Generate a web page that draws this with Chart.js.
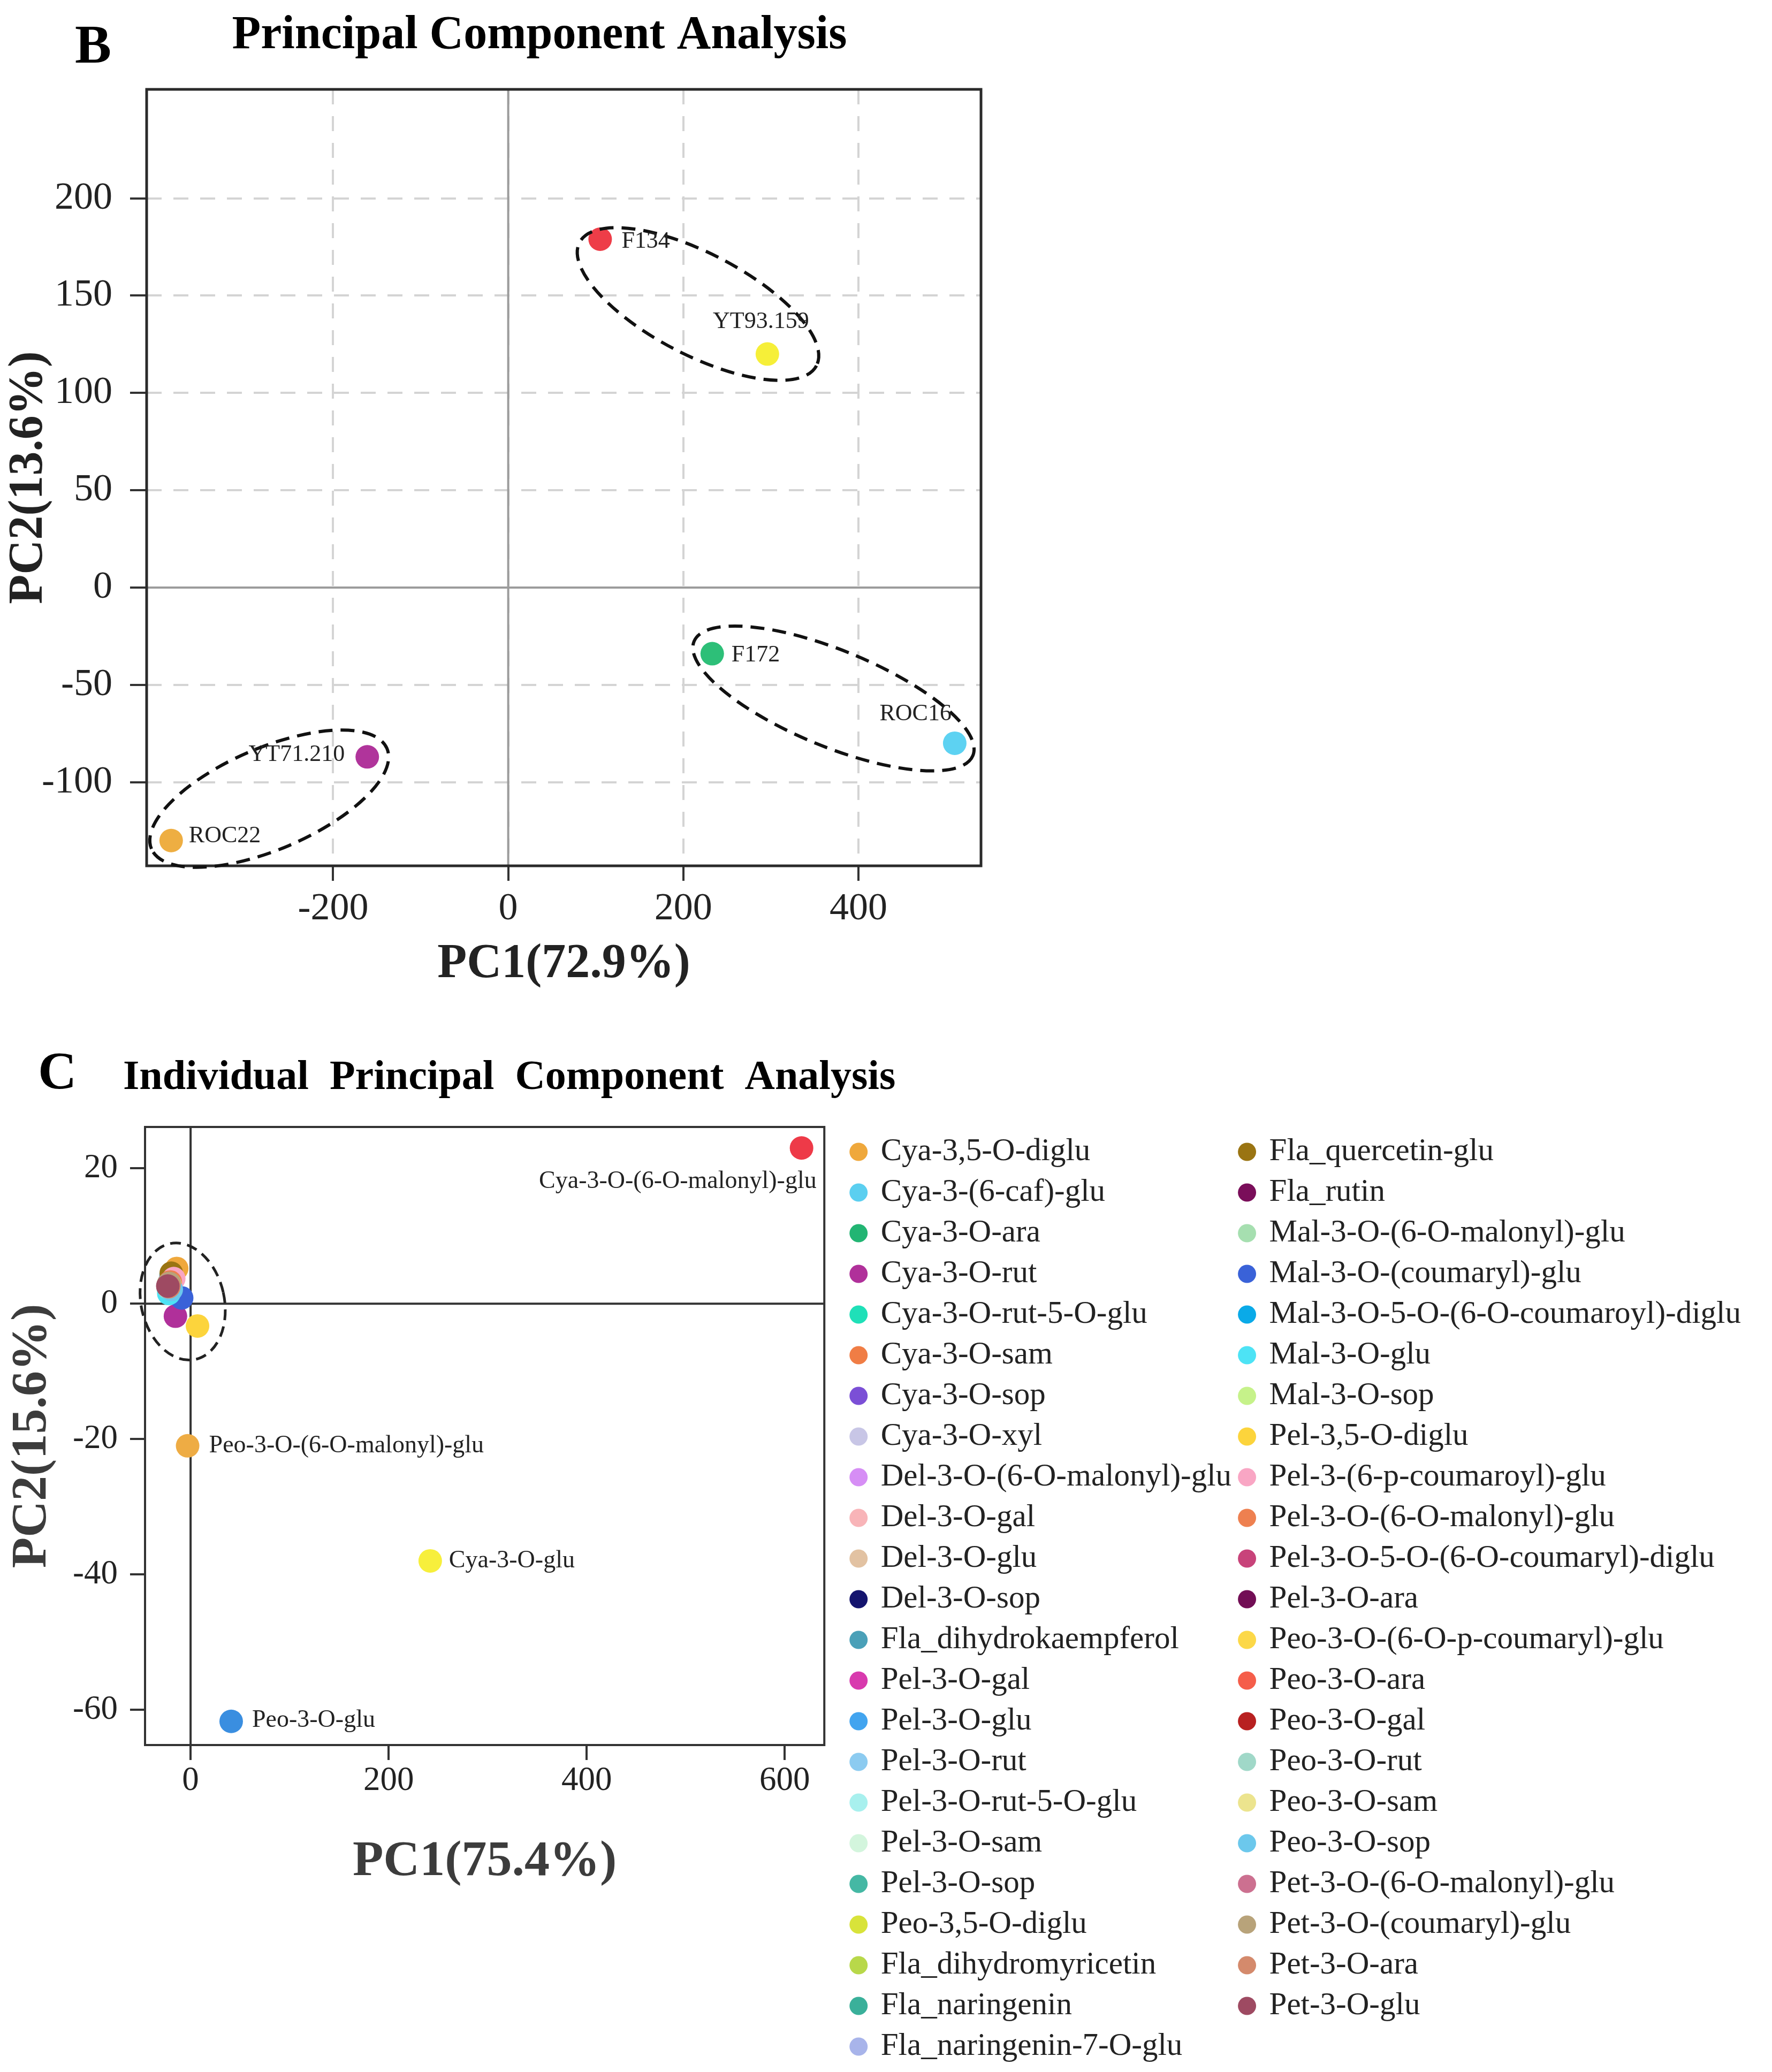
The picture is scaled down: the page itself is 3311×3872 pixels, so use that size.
<!DOCTYPE html>
<html>
<head>
<meta charset="utf-8">
<script src="https://cdn.jsdelivr.net/npm/chart.js@4.4.1/dist/chart.umd.min.js"></script>
<style>
  html, body { margin: 0; padding: 0; background: #fff; }
  body { width: 3311px; height: 3872px; overflow: hidden; position: relative; }
  canvas { position: absolute; left: 0; }
  #pcaB { top: 0; }
  #pcaC { top: 1940px; }
</style>
</head>
<body>
<canvas id="pcaB" width="1900" height="1880"></canvas>
<canvas id="pcaC" width="3311" height="1960"></canvas>
<script>
const serif = "'Liberation Serif', 'Times New Roman', serif";

// ---- panel B: samples ----
const samplesB = ['F134', 'YT93.159', 'F172', 'ROC16', 'YT71.210', 'ROC22'];
const pc1B = [105, 296, 233, 510, -161, -385];
const pc2B = [179, 120, -34, -80, -87, -130];
const colorsB = ['#ee3d48', '#f6ef38', '#2dbf78', '#5dd2f2', '#b0349b', '#eeae42'];
const groupsB = [['F134', 'YT93.159'], ['F172', 'ROC16'], ['YT71.210', 'ROC22']];
const xTicksB = [-200, 0, 200, 400];
const yTicksB = [-100, -50, 0, 50, 100, 150, 200];

// ---- panel C: compounds ----
const compounds = [
  'Cya-3,5-O-diglu', 'Cya-3-(6-caf)-glu', 'Cya-3-O-ara', 'Cya-3-O-rut', 'Cya-3-O-rut-5-O-glu',
  'Cya-3-O-sam', 'Cya-3-O-sop', 'Cya-3-O-xyl', 'Del-3-O-(6-O-malonyl)-glu', 'Del-3-O-gal',
  'Del-3-O-glu', 'Del-3-O-sop', 'Fla_dihydrokaempferol', 'Pel-3-O-gal', 'Pel-3-O-glu',
  'Pel-3-O-rut', 'Pel-3-O-rut-5-O-glu', 'Pel-3-O-sam', 'Pel-3-O-sop', 'Peo-3,5-O-diglu',
  'Fla_dihydromyricetin', 'Fla_naringenin', 'Fla_naringenin-7-O-glu',
  'Fla_quercetin-glu', 'Fla_rutin', 'Mal-3-O-(6-O-malonyl)-glu', 'Mal-3-O-(coumaryl)-glu',
  'Mal-3-O-5-O-(6-O-coumaroyl)-diglu', 'Mal-3-O-glu', 'Mal-3-O-sop', 'Pel-3,5-O-diglu',
  'Pel-3-(6-p-coumaroyl)-glu', 'Pel-3-O-(6-O-malonyl)-glu', 'Pel-3-O-5-O-(6-O-coumaryl)-diglu',
  'Pel-3-O-ara', 'Peo-3-O-(6-O-p-coumaryl)-glu', 'Peo-3-O-ara', 'Peo-3-O-gal', 'Peo-3-O-rut',
  'Peo-3-O-sam', 'Peo-3-O-sop', 'Pet-3-O-(6-O-malonyl)-glu', 'Pet-3-O-(coumaryl)-glu',
  'Pet-3-O-ara', 'Pet-3-O-glu'
];
const pc1C = [
  -14, -21, -22, -15.3, -21.5, -20, -22, -21, -21.5, -20.5,
  -21, -22, -22.5, -21, -21.5, -20, -22.5, -21, -21.5, -21,
  -22, -22, -21, -19.5, -22, -22.5, -9, -21, -22, -21.5,
  7, -17, -20.5, -22, -22.5, -21, -21.5, -22.5, -22, -21,
  -19.5, -22, -21.5, -22, -23
];
const pc2C = [
  5.2, 2.4, 2.8, -1.85, 2.5, 3.3, 2.7, 3.0, 3.1, 3.2,
  2.6, 2.7, 2.6, 2.9, 2.4, 4.1, 2.2, 2.6, 2.8, 3.2,
  3.0, 2.3, 3.3, 4.5, 2.8, 2.5, 0.85, 2.9, 1.5, 2.7,
  -3.3, 3.7, 3.2, 2.6, 2.7, 2.8, 3.0, 2.6, 2.3, 2.9,
  2.1, 2.7, 3.0, 2.5, 2.6
];
const colorsC = [
  '#efa83c', '#5bcff0', '#22b573', '#b0309a', '#1fe0b8', '#f07d45', '#7b4fd6', '#c8c6e6',
  '#d68ef5', '#f8b4b8', '#e2c2a2', '#14146e', '#4aa0b8', '#d83aae', '#42a4ef', '#8ccbf0',
  '#a8f0ee', '#d3f5dd', '#45b8a4', '#d8e33a', '#b8d84a', '#3ab09a', '#a8b4ea',
  '#9a7412', '#7a0e5a', '#a6dfb0', '#3a62d8', '#0aaae8', '#4de3f5', '#c6f28a', '#fcd43c',
  '#f9a6c4', '#ee8050', '#c8437a', '#720e55', '#fcd848', '#f55e4a', '#b82020', '#a0d8c8',
  '#ece48e', '#6cc8ec', '#cc7090', '#b8a37a', '#d48a6c', '#9e4a62'
];
// compounds that stand out and are labelled on the plot
const outliers = ['Cya-3-O-(6-O-malonyl)-glu', 'Cya-3-O-glu', 'Peo-3-O-(6-O-malonyl)-glu', 'Peo-3-O-glu'];
const outlierPc1 = [617, 242, -3, 41];
const outlierPc2 = [23, -38, -21, -61.7];
const outlierColors = ['#ee3a48', '#f7ef3c', '#eeac44', '#3a8ee0'];
const xTicksC = [0, 200, 400, 600];
const yTicksC = [-60, -40, -20, 0, 20];

// ---- helpers / plugins ----
const fixedTicks = values => scale => { scale.ticks = values.map(v => ({ value: v })); };

const heading = cfg => ({
  id: 'heading',
  afterDraw(chart) {
    const ctx = chart.ctx;
    ctx.save();
    ctx.fillStyle = '#000';
    ctx.textBaseline = 'middle';
    ctx.textAlign = 'center';
    ctx.font = cfg.letterFont;
    ctx.fillText(cfg.letter, cfg.letterX, cfg.letterY);
    ctx.textAlign = cfg.titleAlign;
    ctx.font = cfg.titleFont;
    ctx.fillText(cfg.title, cfg.titleX, cfg.titleY);
    ctx.restore();
  }
});

const frame = cfg => ({
  id: 'frame',
  beforeDatasetsDraw(chart) {
    const { ctx, chartArea: a, scales: { x, y } } = chart;
    const x0 = x.getPixelForValue(0), y0 = y.getPixelForValue(0);
    ctx.save();
    ctx.strokeStyle = cfg.zeroColor;
    ctx.lineWidth = cfg.zeroWidth;
    ctx.beginPath();
    ctx.moveTo(x0, a.top); ctx.lineTo(x0, a.bottom);
    ctx.moveTo(a.left, y0); ctx.lineTo(a.right, y0);
    ctx.stroke();
    ctx.strokeStyle = cfg.color;
    ctx.lineWidth = cfg.width;
    ctx.strokeRect(a.left, a.top, a.right - a.left, a.bottom - a.top);
    ctx.restore();
  }
});

const pointLabels = (specs, font) => ({
  id: 'pointLabels',
  afterDatasetsDraw(chart) {
    const ctx = chart.ctx;
    ctx.save();
    ctx.font = font;
    ctx.fillStyle = '#222';
    ctx.textBaseline = 'middle';
    specs.forEach(s => {
      const el = chart.getDatasetMeta(s.dataset).data[s.index];
      ctx.textAlign = s.align;
      ctx.fillText(s.text, el.x + s.dx, el.y + s.dy);
    });
    ctx.restore();
  }
});

// dashed ellipse around each pair of samples
const pairEllipses = shapes => ({
  id: 'pairEllipses',
  afterDatasetsDraw(chart) {
    const ctx = chart.ctx;
    const pts = chart.getDatasetMeta(0).data;
    ctx.save();
    ctx.strokeStyle = '#111';
    ctx.lineWidth = 6;
    ctx.setLineDash([26, 15]);
    groupsB.forEach((g, k) => {
      const p = pts[samplesB.indexOf(g[0])], q = pts[samplesB.indexOf(g[1])];
      const sh = shapes[k];
      const ang = Math.atan2(q.y - p.y, q.x - p.x) + sh.tilt * Math.PI / 180;
      const half = Math.hypot(q.x - p.x, q.y - p.y) / 2;
      const cx = (p.x + q.x) / 2 + sh.shift * Math.cos(ang);
      const cy = (p.y + q.y) / 2 + sh.shift * Math.sin(ang);
      ctx.beginPath();
      ctx.ellipse(cx, cy, half + sh.ext, sh.minor, ang, 0, Math.PI * 2);
      ctx.stroke();
    });
    ctx.restore();
  }
});

// dashed ellipse around the cluster of compounds near the origin
const clusterEllipse = cfg => ({
  id: 'clusterEllipse',
  afterDatasetsDraw(chart) {
    const ctx = chart.ctx;
    let x1 = Infinity, x2 = -Infinity, y1 = Infinity, y2 = -Infinity;
    compounds.forEach((c, i) => {
      const el = chart.getDatasetMeta(i).data[0];
      x1 = Math.min(x1, el.x - cfg.r); x2 = Math.max(x2, el.x + cfg.r);
      y1 = Math.min(y1, el.y - cfg.r); y2 = Math.max(y2, el.y + cfg.r);
    });
    ctx.save();
    ctx.strokeStyle = '#222';
    ctx.lineWidth = 5;
    ctx.setLineDash([20, 12]);
    ctx.beginPath();
    ctx.ellipse((x1 + x2) / 2, (y1 + y2) / 2 + cfg.dy, (x2 - x1) / 2 + cfg.padX, (y2 - y1) / 2 + cfg.padY, cfg.rot, 0, Math.PI * 2);
    ctx.stroke();
    ctx.restore();
  }
});

// ---- chart B ----
new Chart(document.getElementById('pcaB'), {
  type: 'scatter',
  data: {
    datasets: [{
      data: samplesB.map((s, i) => ({ x: pc1B[i], y: pc2B[i] })),
      backgroundColor: colorsB,
      borderWidth: 0,
      pointRadius: 22,
      pointHoverRadius: 22
    }]
  },
  options: {
    responsive: false,
    animation: false,
    devicePixelRatio: 1,
    events: [],
    layout: { padding: { top: 167, right: 67, bottom: 0, left: 0 } },
    plugins: { legend: { display: false }, tooltip: { enabled: false }, title: { display: false } },
    scales: {
      x: {
        type: 'linear', min: -413, max: 540,
        afterBuildTicks: fixedTicks(xTicksB),
        afterFit: s => { s.height = 262; },
        grid: { color: '#d4d4d4', lineWidth: 4, tickLength: 28, tickColor: '#333', tickWidth: 4, tickBorderDash: [] },
        border: { display: false, dash: [28, 22] },
        ticks: { font: { family: serif, size: 72 }, color: '#222', padding: 10 },
        title: { display: true, text: 'PC1(72.9%)', color: '#222', padding: { top: 0, bottom: 32 },
                 font: { family: serif, size: 90, weight: 'bold', lineHeight: 1 } }
      },
      y: {
        type: 'linear', min: -143, max: 256,
        afterBuildTicks: fixedTicks(yTicksB),
        afterFit: s => { s.width = 274; },
        grid: { color: '#d4d4d4', lineWidth: 4, tickLength: 31, tickColor: '#333', tickWidth: 4, tickBorderDash: [] },
        border: { display: false, dash: [28, 22] },
        ticks: { font: { family: serif, size: 72 }, color: '#222', padding: 33 },
        title: { display: true, text: 'PC2(13.6%)', color: '#222', padding: { top: 10, bottom: 0 },
                 font: { family: serif, size: 90, weight: 'bold', lineHeight: 1 } }
      }
    }
  },
  plugins: [
    frame({ color: '#2a2a2a', width: 5, zeroColor: '#9c9c9c', zeroWidth: 4 }),
    pairEllipses([
      { ext: 60, minor: 95, tilt: -7, shift: 30 },
      { ext: 40, minor: 90, tilt: 2, shift: 0 },
      { ext: 40, minor: 95, tilt: 0, shift: 0 }
    ]),
    pointLabels([
      { dataset: 0, index: 0, text: samplesB[0], align: 'left', dx: 40, dy: 4 },
      { dataset: 0, index: 1, text: samplesB[1], align: 'center', dx: -12, dy: -60 },
      { dataset: 0, index: 2, text: samplesB[2], align: 'left', dx: 36, dy: 3 },
      { dataset: 0, index: 3, text: samplesB[3], align: 'right', dx: -6, dy: -54 },
      { dataset: 0, index: 4, text: samplesB[4], align: 'right', dx: -42, dy: -4 },
      { dataset: 0, index: 5, text: samplesB[5], align: 'left', dx: 33, dy: -8 }
    ], '44px ' + serif),
    heading({
      letter: 'B', letterFont: 'bold 102px ' + serif, letterX: 174, letterY: 91,
      title: 'Principal Component Analysis', titleFont: 'bold 88px ' + serif,
      titleAlign: 'center', titleX: 1008, titleY: 67
    })
  ]
});

// ---- chart C ----
const datasetsC = compounds.map((c, i) => ({
  label: c,
  data: [{ x: pc1C[i], y: pc2C[i] }],
  backgroundColor: colorsC[i]
})).concat(outliers.map((c, i) => ({
  label: c,
  data: [{ x: outlierPc1[i], y: outlierPc2[i] }],
  backgroundColor: outlierColors[i]
})));
datasetsC.forEach((d, i) => {
  d.borderWidth = 0;
  d.pointRadius = 22;
  d.pointHoverRadius = 22;
  d.order = -i; // later compounds drawn on top
});

const nC = compounds.length;
new Chart(document.getElementById('pcaC'), {
  type: 'scatter',
  data: { datasets: datasetsC },
  options: {
    responsive: false,
    animation: false,
    devicePixelRatio: 1,
    events: [],
    layout: { padding: { top: 166, right: 48, bottom: 0, left: 0 } },
    plugins: {
      tooltip: { enabled: false },
      title: { display: false },
      legend: {
        display: true, position: 'right', align: 'start', maxWidth: 2000,
        labels: {
          usePointStyle: true, pointStyle: 'circle', boxWidth: 24, boxHeight: 24, padding: 17,
          font: { family: serif, size: 59 }, color: '#222',
          filter: item => item.datasetIndex < nC,
          sort: (a, b) => a.datasetIndex - b.datasetIndex
        }
      }
    },
    scales: {
      x: {
        type: 'linear', min: -46, max: 640,
        afterBuildTicks: fixedTicks(xTicksC),
        afterFit: s => { s.height = 639; },
        grid: { drawOnChartArea: false, tickLength: 28, color: '#333', lineWidth: 4 },
        border: { display: false },
        ticks: { font: { family: serif, size: 63 }, color: '#222', padding: 2 },
        title: { display: true, text: 'PC1(75.4%)', color: '#3c3c3c', padding: { top: 0, bottom: 373 },
                 font: { family: serif, size: 94, weight: 'bold', lineHeight: 1 } }
      },
      y: {
        type: 'linear', min: -65.2, max: 26.1,
        afterBuildTicks: fixedTicks(yTicksC),
        afterFit: s => { s.width = 271; },
        grid: { drawOnChartArea: false, tickLength: 28, color: '#333', lineWidth: 4 },
        border: { display: false },
        ticks: { font: { family: serif, size: 63 }, color: '#222', padding: 23 },
        title: { display: true, text: 'PC2(15.6%)', color: '#3c3c3c', padding: { top: 14, bottom: 0 },
                 font: { family: serif, size: 94, weight: 'bold', lineHeight: 1 } }
      },
      gap: {
        type: 'linear', position: 'right', display: true,
        grid: { display: false }, ticks: { display: false }, border: { display: false },
        afterFit: s => { s.width = 35; }
      }
    }
  },
  plugins: [
    frame({ color: '#333', width: 4, zeroColor: '#333', zeroWidth: 4 }),
    clusterEllipse({ r: 22, padX: 28, padY: 35, dy: 8, rot: -0.22 }),
    pointLabels([
      { dataset: nC, index: 0, text: outliers[0], align: 'right', dx: 28, dy: 63 },
      { dataset: nC + 1, index: 0, text: outliers[1], align: 'left', dx: 35, dy: 0 },
      { dataset: nC + 2, index: 0, text: outliers[2], align: 'left', dx: 40, dy: 0 },
      { dataset: nC + 3, index: 0, text: outliers[3], align: 'left', dx: 39, dy: -2 }
    ], '46px ' + serif),
    heading({
      letter: 'C', letterFont: 'bold 100px ' + serif, letterX: 107, letterY: 68,
      title: 'Individual  Principal  Component  Analysis', titleFont: 'bold 78px ' + serif,
      titleAlign: 'left', titleX: 230, titleY: 75
    })
  ]
});
</script>
</body>
</html>
